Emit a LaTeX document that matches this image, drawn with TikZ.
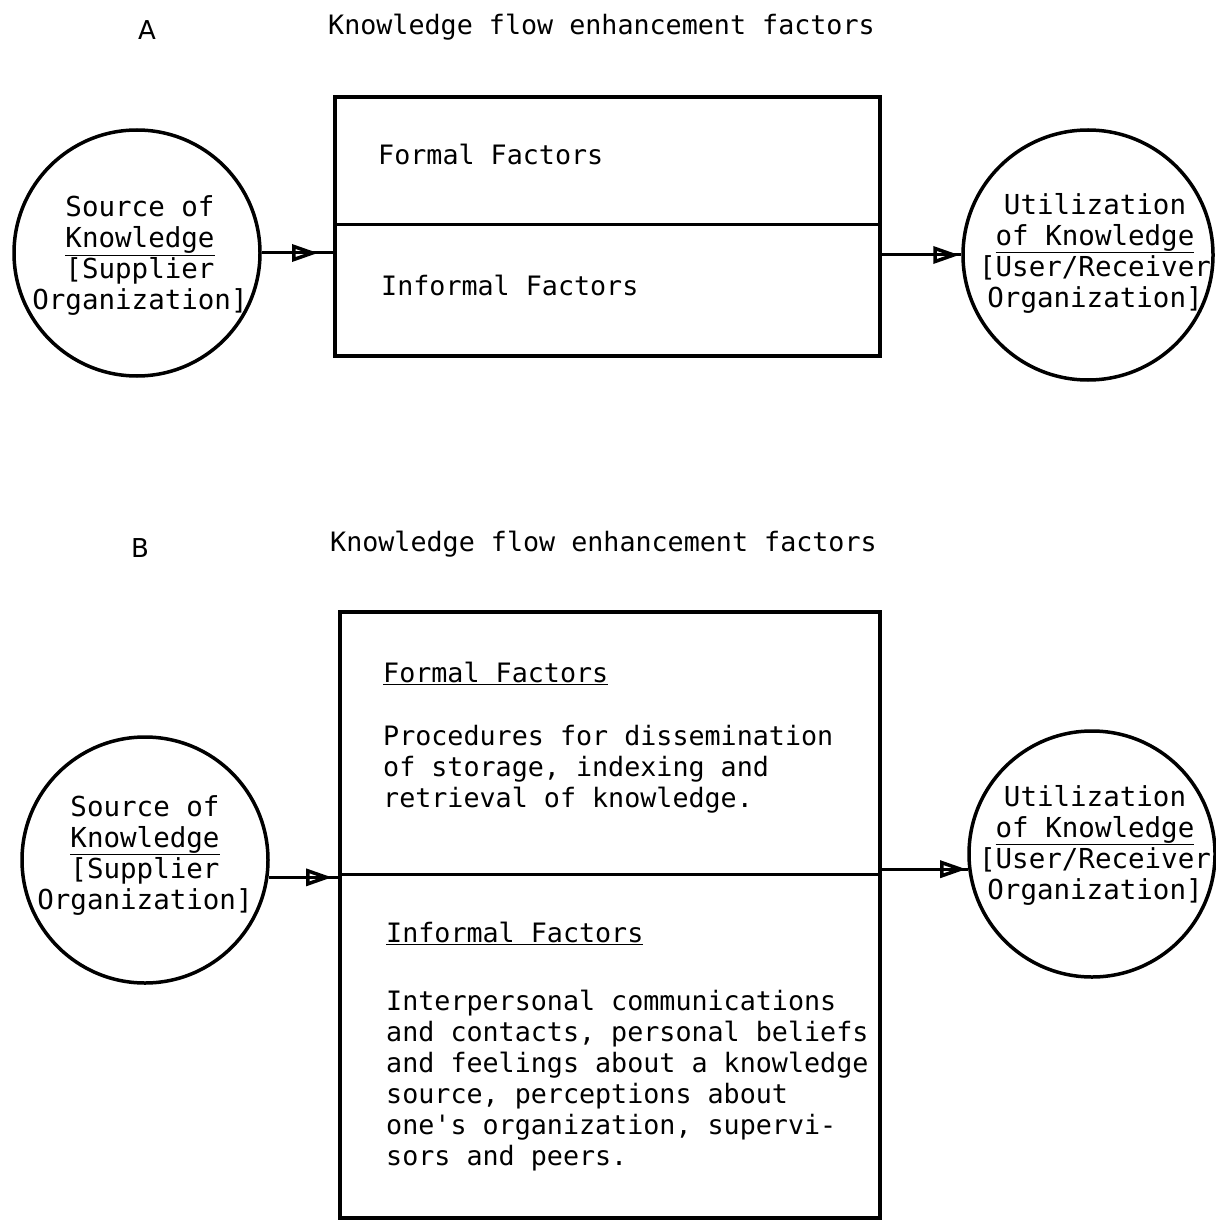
\documentclass[tikz,border=0pt]{standalone}
\usepackage{fontspec}
\newfontfamily\typefont{DejaVu Sans Mono}
\newfontfamily\letterfont{DejaVu Sans}
\usetikzlibrary{arrows.meta,decorations.markings}
\begin{document}
\begin{tikzpicture}[x=1pt, y=-1pt,
  typed/.style={font=\typefont\fontsize{26.7}{31}\selectfont, inner sep=0pt},
  circtext/.style={font=\typefont\fontsize{27.5}{31}\selectfont, inner sep=0pt, align=center},
  party/.style={draw, circle, line width=3.5pt, minimum size=#1},
  factorbox/.style={draw, rectangle, line width=4pt},
  flow/.style={line width=3pt, postaction={decorate},
    decoration={markings, mark=at position #1 with
      {\arrow{Triangle[open, length=26pt, width=17pt, line width=3.5pt]}}}},
  flow/.default=-2pt]
  \useasboundingbox (0,0) rectangle (1215,1230);

  % Panel A
  \node[font=\letterfont\fontsize{26}{26}\selectfont] (labA) at (147,30) {A};
  \node[typed, anchor=base west] (titleA) at (328,35) {Knowledge flow enhancement factors};
  \node[factorbox, minimum width=545, minimum height=259] (boxA) at (607.5,226.5) {};
  \coordinate (divA) at (335,225);
  \draw[line width=3pt] (divA) -- (divA -| boxA.east);
  \node[typed, anchor=base west] (formalA) at (378,165) {Formal Factors};
  \node[typed, anchor=base west] (informalA) at (381,296) {Informal Factors};
  % Source and user circles
  \node[party=246] (srcA) at (137,253) {};
  \node[circtext] (srcAtext) at (140,256)
    {Source of\\\underline{Knowledge}\\{[}Supplier\\Organization]};
  \node[party=250] (useA) at (1088,255) {};
  \node[circtext] (useAtext) at (1095,253)
    {Utilization\\\underline{of Knowledge}\\{[}User/Receiver\\Organization]};
  % Flow arrows
  \draw[flow=-15pt] (srcA.east) -- (srcA.east -| boxA.west);
  \draw[flow] (boxA.east |- useA.west) -- (useA.west);

  % Panel B
  \node[font=\letterfont\fontsize{26}{26}\selectfont] (labB) at (140,548) {B};
  \node[typed, anchor=base west] (titleB) at (330,551) {Knowledge flow enhancement factors};
  \node[factorbox, minimum width=540, minimum height=606] (boxB) at (610,915) {};
  \coordinate (divB) at (340,874);
  \draw[line width=3pt] (divB) -- (divB -| boxB.east);
  \node[typed, anchor=base west] (formalB) at (383,682) {\underline{Formal Factors}};
  \node[typed, anchor=north west, align=left] (formalBtext) at (383,725)
    {Procedures for dissemination\\of storage, indexing and\\retrieval of knowledge.};
  \node[typed, anchor=base west] (informalB) at (386,942) {\underline{Informal Factors}};
  \node[typed, anchor=north west, align=left] (informalBtext) at (386,990)
    {Interpersonal communications\\and contacts, personal beliefs\\and feelings about a knowledge\\source, perceptions about\\one's organization, supervi-\\sors and peers.};
  % Source and user circles
  \node[party=246] (srcB) at (145,860) {};
  \node[circtext] (srcBtext) at (145,855)
    {Source of\\\underline{Knowledge}\\{[}Supplier\\Organization]};
  \node[party=246] (useB) at (1092,854) {};
  \node[circtext] (useBtext) at (1095,845)
    {Utilization\\\underline{of Knowledge}\\{[}User/Receiver\\Organization]};
  % Flow arrows
  \draw[flow=-6pt] (srcB.-8) -- (srcB.-8 -| boxB.west);
  \draw[flow] (boxB.east |- useB.187) -- (useB.187);
\end{tikzpicture}
\end{document}
